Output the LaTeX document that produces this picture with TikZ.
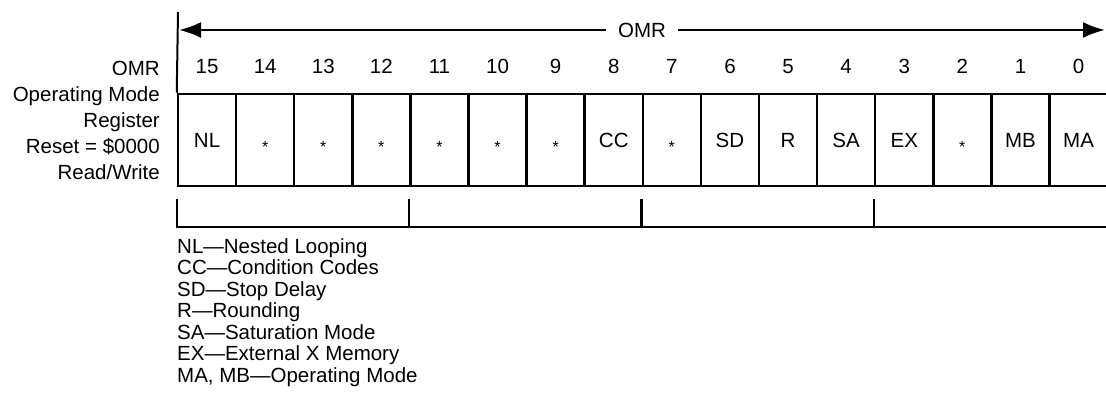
\documentclass[tikz,border=0pt]{standalone}
\usepackage{fontspec}
\setmainfont{Liberation Sans}
\usetikzlibrary{arrows.meta,positioning,calc}
\newcommand{\txtsize}{\fontsize{20.5}{24}\selectfont}
\newcommand{\rsvbit}{\raisebox{-5pt}{\fontsize{16}{16}\selectfont *}}
\tikzset{
  bitcell/.style={draw, line width=2.5pt, minimum width=58.1pt, minimum height=92pt, inner sep=0pt, text height=14.6pt, text depth=0pt, font=\txtsize},
  bitnum/.style={font=\txtsize, inner sep=0pt},
  lbl/.style={font=\txtsize, inner sep=0pt},
  ln/.style={line width=2.5pt},
  arr/.style={line width=2.5pt, {Latex[length=22pt,width=16pt]}-{Latex[length=22pt,width=16pt]}}}

\begin{document}
\begin{tikzpicture}[x=1pt, y=-1pt]
  \useasboundingbox (0,0) rectangle (1106,419);
  % register cells, bit 15 on the left
  \foreach \i/\t in {15/NL, 14/\rsvbit, 13/\rsvbit, 12/\rsvbit, 11/\rsvbit, 10/\rsvbit, 9/\rsvbit, 8/CC,
                     7/\rsvbit, 6/SD, 5/R, 4/SA, 3/EX, 2/\rsvbit, 1/MB, 0/MA} {
    \node[bitcell] (b\i) at (178+58.1*15-58.1*\i+29.05, 140) {\t};
    \node[bitnum] (n\i) at ([yshift=26pt]b\i.north) {\i};
  }
  \node[lbl, align=right, anchor=east, font=\fontsize{20.5}{26}\selectfont] (regname) at (160,120)
    {OMR\\Operating Mode\\Register\\Reset = \$0000\\Read/Write};
  % width arrow
  \coordinate (topL) at (178,12);
  \coordinate (arrL) at (179,30);
  \coordinate (arrR) at (1105,30);
  \draw[line width=2pt] (topL) -- (b15.north west);
  \draw[arr] (arrL) -- (arrR);
  \node[lbl, fill=white, inner xsep=12pt, inner ysep=2pt] (omr) at (642,30) {OMR};
  % nibble brackets
  \draw[ln] ($(b15.south west)+(0,12)$) -- ++(0,28) -- ($(b0.south east)+(0,40)$);
  \foreach \k in {11,7,3} \draw[ln] ($(b\k.south west)+(0,12)$) -- ++(0,28);
  \node[lbl, align=left, anchor=west, font=\fontsize{20.5}{21.5}\selectfont] (legend) at (177,312.5)
    {NL---Nested Looping\\CC---Condition Codes\\SD---Stop Delay\\R---Rounding\\SA---Saturation Mode\\EX---External X Memory\\MA, MB---Operating Mode};
\end{tikzpicture}
\end{document}
